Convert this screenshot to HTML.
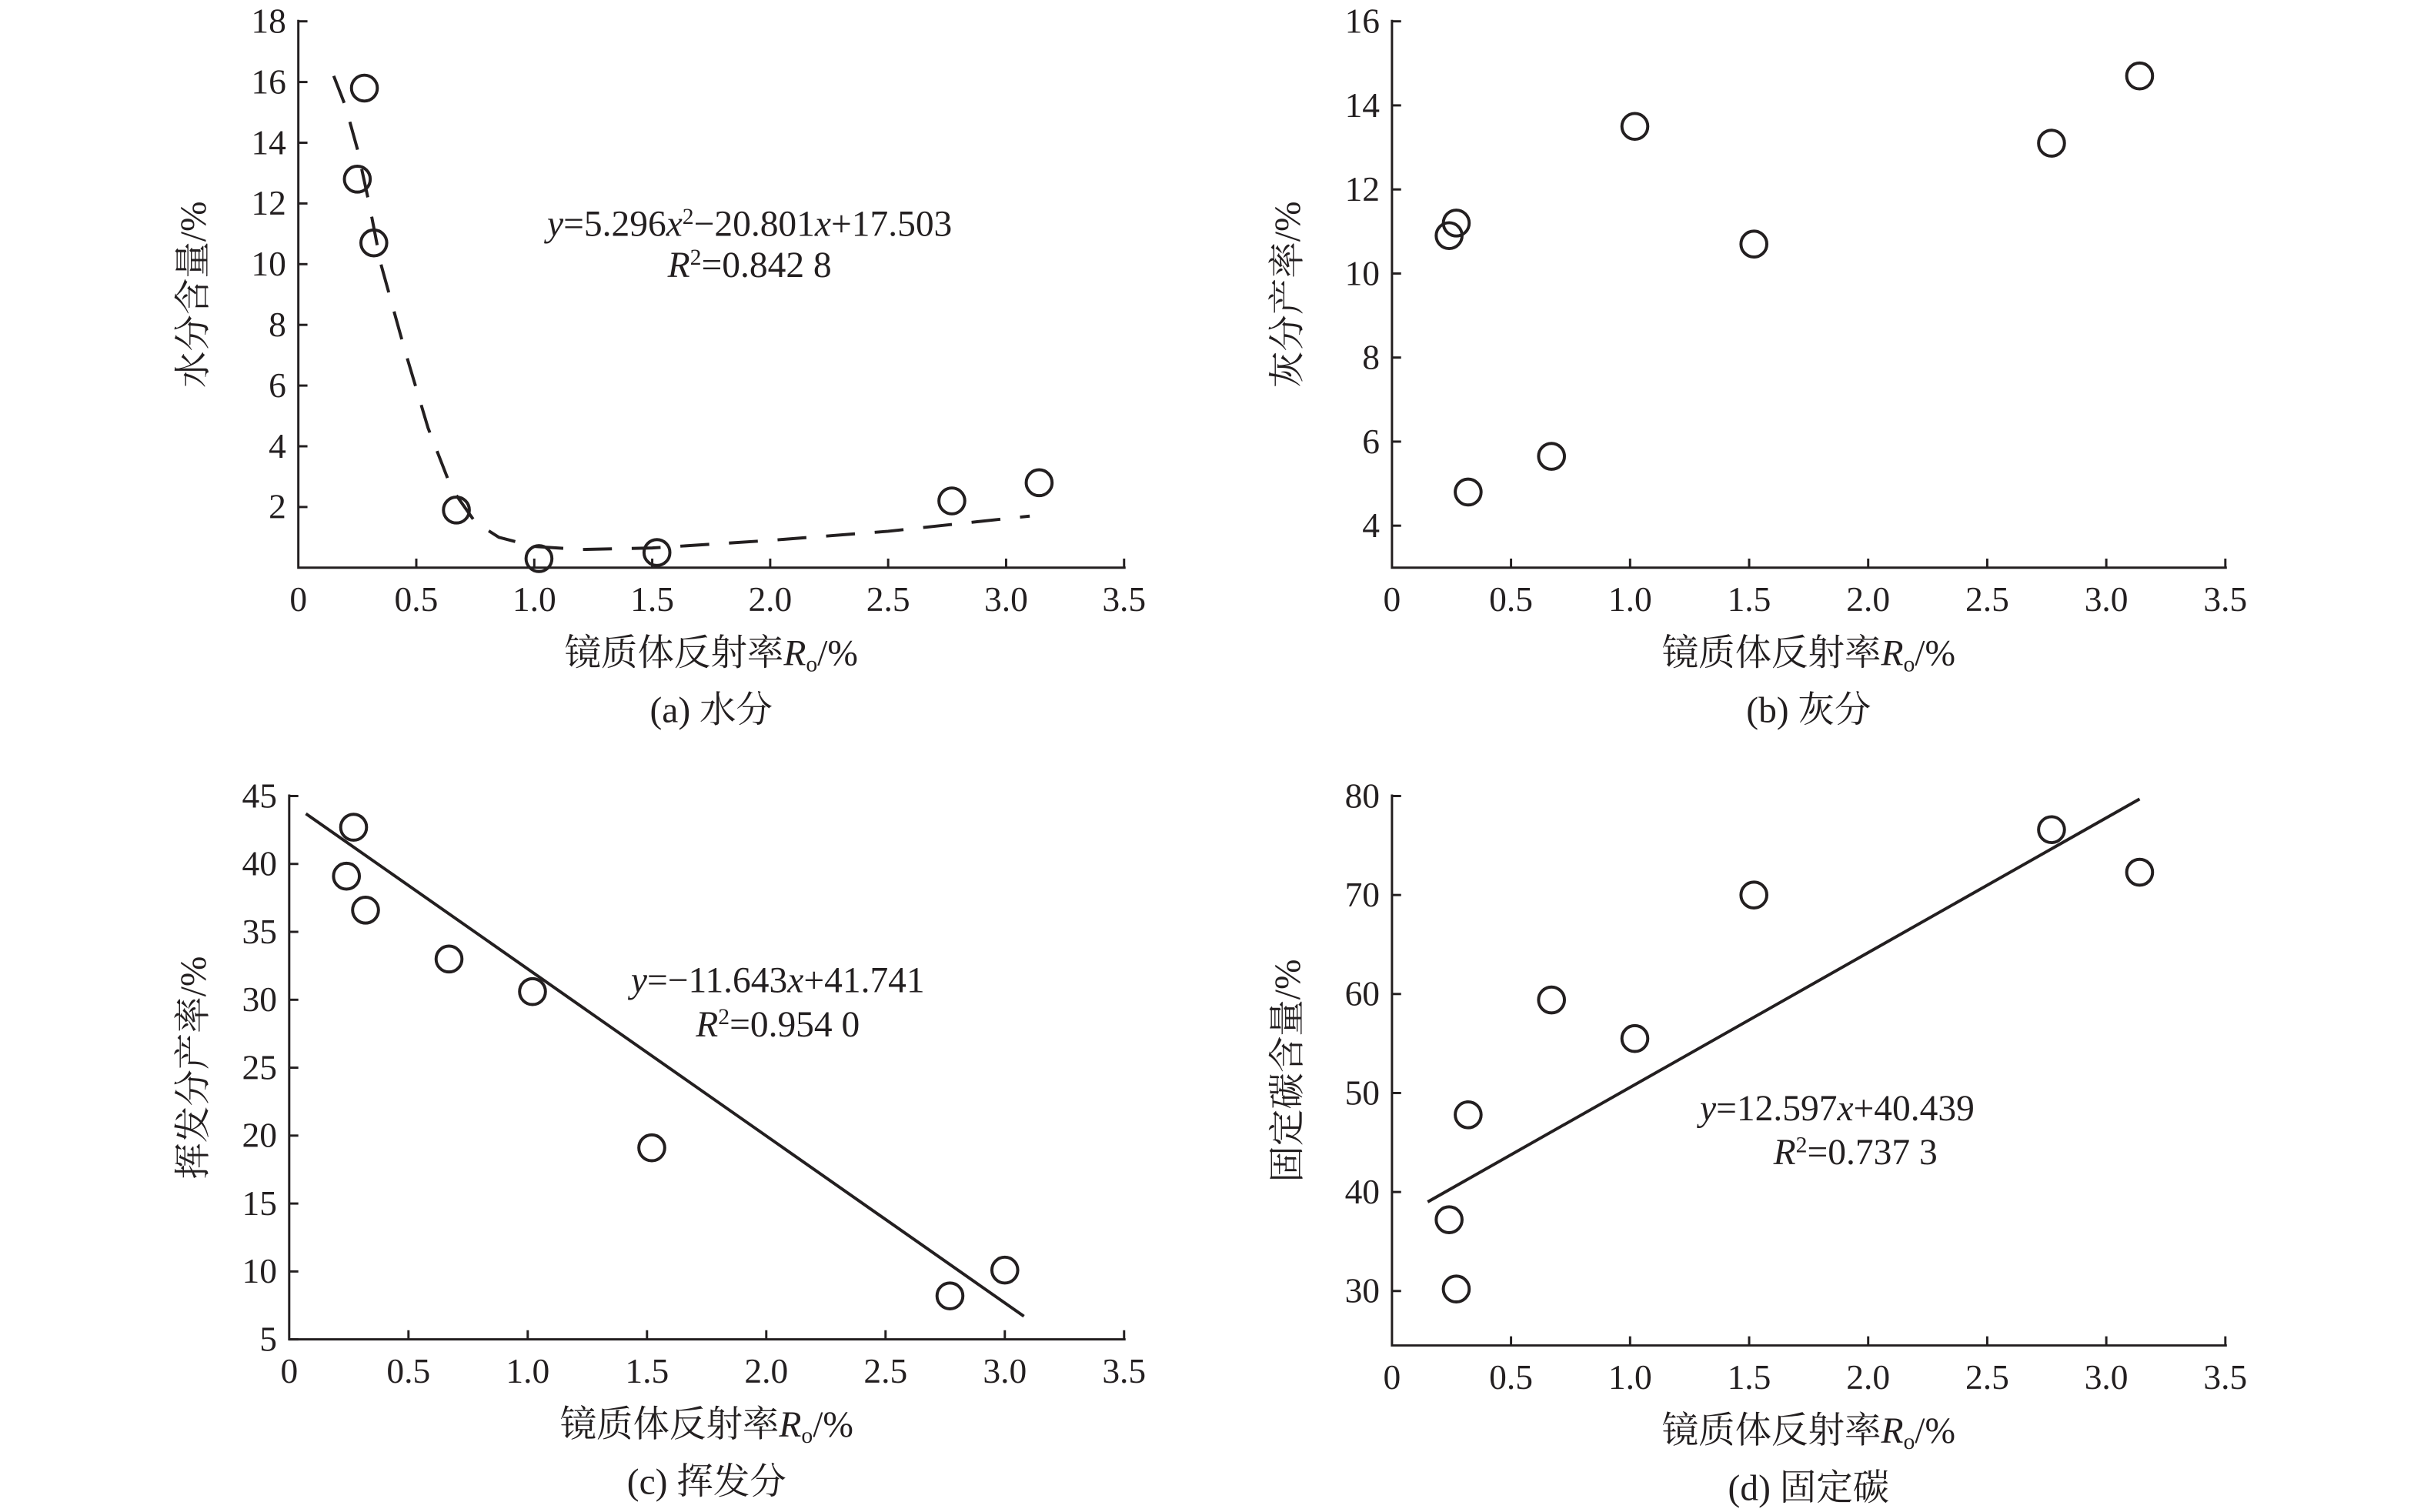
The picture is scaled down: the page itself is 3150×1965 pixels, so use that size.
<!DOCTYPE html>
<html><head><meta charset="utf-8">
<style>
html,body{margin:0;padding:0;background:#fff;}
svg{display:block;}
text{font-family:"Liberation Serif","Noto Serif CJK SC",serif;fill:#231f20;}
</style></head>
<body>
<svg width="3150" height="1965" viewBox="0 0 3150 1965" xmlns="http://www.w3.org/2000/svg"><g id="fig" transform="scale(0.989)"></g></svg>
<script>
// Shared x data (vitrinite reflectance Ro, %)
const xTicks = [0, 0.5, 1.0, 1.5, 2.0, 2.5, 3.0, 3.5];
const xTickLabels = ["0","0.5","1.0","1.5","2.0","2.5","3.0","3.5"];
// Panel a: moisture
const aX = [0.25, 0.28, 0.32, 0.67, 1.02, 1.52, 2.77, 3.14];
const aY = [12.8, 15.8, 10.7, 1.9, 0.3, 0.5, 2.2, 2.8];
const aCurveX = [0.15, 0.2, 0.25, 0.3, 0.35, 0.45, 0.55, 0.65, 0.75, 0.85, 1.0, 1.2, 1.5, 2.0, 2.5, 3.1];
const aCurveY = [16.2, 15.2, 13.8, 12.0, 10.0, 7.2, 4.6, 2.6, 1.5, 1.0, 0.7, 0.6, 0.65, 0.9, 1.2, 1.7];
const aYTicks = [2, 4, 6, 8, 10, 12, 14, 16, 18];
// Panel b: ash
const bX = [0.24, 0.27, 0.32, 0.67, 1.02, 1.52, 2.77, 3.14];
const bY = [10.9, 11.2, 4.8, 5.65, 13.5, 10.7, 13.1, 14.7];
const bYTicks = [4, 6, 8, 10, 12, 14, 16];
// Panel c: volatile
const cX = [0.24, 0.27, 0.32, 0.67, 1.02, 1.52, 2.77, 3.0];
const cY = [39.1, 42.7, 36.6, 33.0, 30.6, 19.1, 8.2, 10.1];
const cLineX = [0.07, 3.08];
const cLineY = [43.7, 6.7];
const cYTicks = [5, 10, 15, 20, 25, 30, 35, 40, 45];
// Panel d: fixed carbon
const dX = [0.24, 0.27, 0.32, 0.67, 1.02, 1.52, 2.77, 3.14];
const dY = [37.2, 30.2, 47.8, 59.4, 55.5, 70.0, 76.6, 72.3];
const dLineX = [0.15, 3.14];
const dLineY = [39.0, 79.7];
const dYTicks = [30, 40, 50, 60, 70, 80];

const NS = "http://www.w3.org/2000/svg";
const svg = document.getElementById('fig');
function el(tag, attrs, parent, txt){
  const e = document.createElementNS(NS, tag);
  for (const k in attrs) e.setAttribute(k, attrs[k]);
  if (txt !== undefined) e.textContent = txt;
  (parent||svg).appendChild(e);
  return e;
}

function panel(cfg){
  const g = el('g', {}, svg);
  
  
  const sx = v => cfg.x0 + (v - 0) * (cfg.x1 - cfg.x0) / 3.5;
  const sy = v => cfg.yBot - (v - cfg.yMin) * (cfg.yBot - cfg.yTop) / (cfg.yMax - cfg.yMin);
  const ax = el('path', {d:`M${cfg.x0},${cfg.yTop-2} V${cfg.yBot} H${cfg.x1+2}`, fill:'none', stroke:'#231f20', 'stroke-width':3}, g);
  
  
  xTicks.forEach((t,i)=>{
    const X = sx(t);
    if (i>0) el('line', {x1:X, x2:X, y1:cfg.yBot, y2:cfg.yBot-12, stroke:'#231f20','stroke-width':3}, g);
    const lt = el('text', {x:X, y:cfg.yBot+57, 'font-size':46, 'text-anchor':'middle'}, g, xTickLabels[i]);
    
    
  });
  cfg.yTicks.forEach(t=>{
    const Y = sy(t);
    el('line', {x1:cfg.x0, x2:cfg.x0+12, y1:Y, y2:Y, stroke:'#231f20','stroke-width':3}, g);
    const lt = el('text', {x:cfg.x0-16, y:Y+15, 'font-size':46, 'text-anchor':'end'}, g, String(t));
    
    
  });
  const xt = el('text', {x:(cfg.x0+cfg.x1)/2, y:cfg.yBot+128, 'font-size':48, 'text-anchor':'middle'}, g);
  
  
  el('tspan', {}, xt, '镜质体反射率');
  el('tspan', {'font-style':'italic'}, xt, 'R');
  el('tspan', {'font-size':30, dy:8}, xt, 'o');
  el('tspan', {dy:-8}, xt, '/%');
  const cap = el('text', {x:(cfg.x0+cfg.x1)/2, y:cfg.yBot+203, 'font-size':48, 'text-anchor':'middle'}, g, cfg.caption);
  
  
  const yc = (cfg.yTop+cfg.yBot)/2;
  const yt = el('text', {x:cfg.yTitleX, y:yc, 'font-size':48, 'text-anchor':'middle', transform:`rotate(-90 ${cfg.yTitleX} ${yc})`}, g, cfg.yTitle);
  
  
  if (cfg.curveX){
    const d = cfg.curveX.map((v,i)=>(i?'L':'M')+sx(v)+','+sy(cfg.curveY[i])).join(' ');
    const p = el('path', {d, fill:'none', stroke:'#231f20', 'stroke-width':4, 'stroke-dasharray':'38 26'}, g);
    
    
  }
  cfg.px.forEach((v,i)=>{
    const c = el('circle', {cx:sx(v), cy:sy(cfg.py[i]), r:17, fill:'none', stroke:'#231f20', 'stroke-width':4}, g);
    
    
  });
  if (cfg.eq){
    const e1 = el('text', {x:cfg.eq[0], y:cfg.eq[1], 'font-size':48, 'text-anchor':'middle'}, g);
    
    
    cfg.eqParts.forEach(p=>{
      const a = {};
      if (p.i) a['font-style']='italic';
      if (p.s) {a['font-size']=30; a.dy=-16;}
      if (p.d) a.dy=16;
      el('tspan', a, e1, p.t);
    });
    const e2 = el('text', {x:cfg.eq[2], y:cfg.eq[3], 'font-size':48, 'text-anchor':'middle'}, g);
    
    
    el('tspan', {'font-style':'italic'}, e2, 'R');
    el('tspan', {'font-size':30, dy:-16}, e2, '2');
    el('tspan', {dy:16}, e2, cfg.r2);
  }
}

panel({name:'panel-a-moisture', x0:392, x1:1477, yTop:28, yBot:746, yMin:0, yMax:18, yTicks:aYTicks,
  px:aX, py:aY, curveX:aCurveX, curveY:aCurveY, caption:'(a) 水分', yTitle:'水分含量/%', yTitleX:270,
  eq:[985,310,985,364], eqParts:[{t:'y',i:1},{t:'=5.296'},{t:'x',i:1},{t:'2',s:1},{t:'−20.801',d:1},{t:'x',i:1},{t:'+17.503'}], r2:'=0.842 8'});
panel({name:'panel-b-ash', x0:1829, x1:2924, yTop:28, yBot:746, yMin:3, yMax:16, yTicks:bYTicks,
  px:bX, py:bY, caption:'(b) 灰分', yTitle:'灰分产率/%', yTitleX:1708});
panel({name:'panel-c-volatile', x0:380, x1:1477, yTop:1046, yBot:1760, yMin:5, yMax:45, yTicks:cYTicks,
  px:cX, py:cY, curveX:null, caption:'(c) 挥发分', yTitle:'挥发分产率/%', yTitleX:270,
  eq:[1022,1304,1022,1362], eqParts:[{t:'y',i:1},{t:'=−11.643'},{t:'x',i:1},{t:'+41.741'}], r2:'=0.954 0'});
panel({name:'panel-d-fixed-carbon', x0:1829, x1:2924, yTop:1046, yBot:1768, yMin:24.5, yMax:80, yTicks:dYTicks,
  px:dX, py:dY, curveX:null, caption:'(d) 固定碳', yTitle:'固定碳含量/%', yTitleX:1708,
  eq:[2414,1472,2438,1530], eqParts:[{t:'y',i:1},{t:'=12.597'},{t:'x',i:1},{t:'+40.439'}], r2:'=0.737 3'});

function solid(x0,x1,yMin,yMax,yTop,yBot,lx,ly,name){
  const sx = v => x0 + v*(x1-x0)/3.5;
  const sy = v => yBot - (v-yMin)*(yBot-yTop)/(yMax-yMin);
  const l = el('line', {x1:sx(lx[0]), y1:sy(ly[0]), x2:sx(lx[1]), y2:sy(ly[1]), stroke:'#231f20','stroke-width':4});
  
  
}
solid(380,1477,5,45,1046,1760,cLineX,cLineY,'fit-line-c');
solid(1829,2924,24.5,80,1046,1768,dLineX,dLineY,'fit-line-d');
</script>
</body></html>
